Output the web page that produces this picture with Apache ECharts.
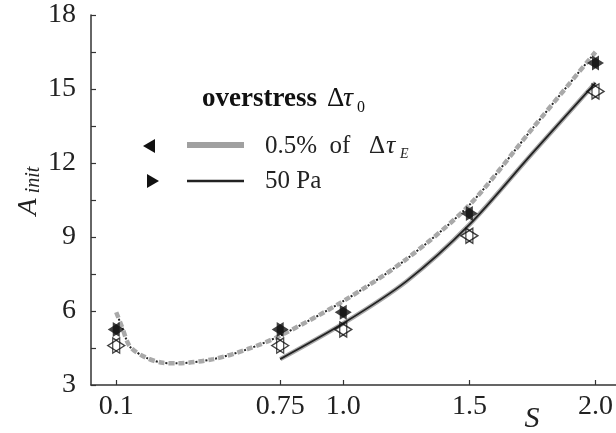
<!DOCTYPE html>
<html>
<head>
<meta charset="utf-8">
<script src="https://cdn.jsdelivr.net/npm/echarts@6/dist/echarts.min.js"></script>
<style>
  html, body { margin: 0; padding: 0; background: #fff; }
  #chart { width: 616px; height: 433px; }
</style>
</head>
<body>
<div id="chart"></div>
<script>
// Axis ticks
const sTicks = [0.1, 0.75, 1.0, 1.5, 2.0];
const sTickLabels = ['0.1', '0.75', '1.0', '1.5', '2.0'];

// Simulation points (hexagram = left + right triangle)
const pointS = [0.1, 0.75, 1.0, 1.5, 2.0];
const filledA = [5.25, 5.25, 5.95, 9.95, 16.05];
const openA = [4.6, 4.6, 5.25, 9.05, 14.9];

// Fitted curves
const upperFitS = [0.1, 0.123, 0.155, 0.22, 0.285, 0.34, 0.485, 0.62, 0.75, 1.0, 1.25, 1.5, 1.75, 2.0];
const upperFitA = [5.95, 5.35, 4.55, 4.1, 3.9, 3.88, 4.05, 4.45, 5.0, 6.4, 8.1, 10.3, 13.4, 16.5];
const lowerFitS = [0.75, 1.0, 1.25, 1.5, 1.75, 2.0];
const lowerFitA = [4.05, 5.5, 7.2, 9.5, 12.4, 15.25];

const FONT = '"Liberation Serif", "Times New Roman", serif';
const LEFT_TRI = 'path://M0,5L9,0L9,10Z';
const RIGHT_TRI = 'path://M9,5L0,0L0,10Z';
const TRI_SIZE = [12, 15];

const zip = (xs, ys) => xs.map((x, i) => [x, ys[i]]);

const markerSeries = (name, ys, symbol, dx, filled) => ({
    name: name, type: 'scatter', data: zip(pointS, ys), z: 5,
    symbol: symbol, symbolSize: TRI_SIZE, symbolOffset: [dx, 0],
    itemStyle: filled
        ? { color: '#111' }
        : { color: 'rgba(255,255,255,0)', borderColor: '#111', borderWidth: 1.3 }
});

const chart = echarts.init(document.getElementById('chart'));

chart.setOption({
    animation: false,
    grid: { left: 91, right: 0, top: 15, bottom: 48 },
    xAxis: {
        type: 'value',
        min: 0,
        max: 2.08,
        splitLine: { show: false },
        axisLine: { lineStyle: { color: '#333', width: 1.5 } },
        axisTick: {
            inside: true, length: 5,
            customValues: sTicks,
            lineStyle: { color: '#333', width: 1.2 }
        },
        axisLabel: {
            customValues: sTicks,
            formatter: v => sTickLabels[sTicks.indexOf(v)],
            fontFamily: FONT, fontSize: 28, color: '#222', margin: 8
        }
    },
    yAxis: {
        type: 'value',
        min: 3,
        max: 18,
        interval: 1.5,
        splitLine: { show: false },
        axisLine: { show: true, lineStyle: { color: '#333', width: 1.5 } },
        axisTick: { show: true, inside: true, length: 5, lineStyle: { color: '#333', width: 1.2 } },
        axisLabel: {
            formatter: v => (v % 3 === 0 ? String(v) : ''),
            fontFamily: FONT, fontSize: 28, color: '#222', margin: 15
        }
    },
    series: [
        {
            name: '0.5% fit', type: 'line', data: zip(upperFitS, upperFitA),
            smooth: 0.3, symbol: 'none', z: 2,
            lineStyle: { color: '#a9a9a9', width: 4.5, type: [6, 4] }
        },
        {
            name: '0.5% fit dots', type: 'line', data: zip(upperFitS, upperFitA),
            smooth: 0.3, symbol: 'none', z: 3,
            lineStyle: { color: '#222', width: 2, type: [2, 8], dashOffset: -7 }
        },
        {
            name: '50 Pa fit shade', type: 'line', data: zip(lowerFitS, lowerFitA),
            smooth: 0.3, symbol: 'none', z: 2,
            lineStyle: { color: '#a9a9a9', width: 4.5 }
        },
        {
            name: '50 Pa fit', type: 'line', data: zip(lowerFitS, lowerFitA),
            smooth: 0.3, symbol: 'none', z: 3,
            lineStyle: { color: '#222', width: 1.8 }
        },
        markerSeries('0.5% filled', filledA, LEFT_TRI, -2.5, true),
        markerSeries('50 Pa filled', filledA, RIGHT_TRI, 2.5, true),
        markerSeries('0.5% open', openA, LEFT_TRI, -2.5, false),
        markerSeries('50 Pa open', openA, RIGHT_TRI, 2.5, false)
    ],
    graphic: [
        // axis names
        { type: 'text', x: 29, y: 207, rotation: Math.PI / 2,
          style: { text: 'A', font: 'italic 28px ' + FONT, fill: '#222', align: 'center', verticalAlign: 'middle' } },
        { type: 'text', x: 34, y: 180, rotation: Math.PI / 2,
          style: { text: 'init', font: 'italic 20px ' + FONT, fill: '#222', align: 'center', verticalAlign: 'middle' } },
        { type: 'text', x: 532, y: 419,
          style: { text: 'S', font: 'italic 30px ' + FONT, fill: '#222', align: 'center', verticalAlign: 'middle' } },

        // legend title
        { type: 'text', x: 202, y: 99,
          style: { text: 'overstress', font: 'bold 27px ' + FONT, fill: '#111', align: 'left', verticalAlign: 'middle' } },
        { type: 'text', x: 327, y: 99,
          style: { text: 'Δ', font: '27px ' + FONT, fill: '#111', align: 'left', verticalAlign: 'middle' } },
        { type: 'text', x: 343, y: 99,
          style: { text: 'τ', font: 'italic 28px ' + FONT, fill: '#111', align: 'left', verticalAlign: 'middle' } },
        { type: 'text', x: 357, y: 108,
          style: { text: '0', font: '16px ' + FONT, fill: '#111', align: 'left', verticalAlign: 'middle' } },

        // legend row 1
        { type: 'polygon', shape: { points: [[143, 146], [155, 139], [155, 153]] }, style: { fill: '#111' } },
        { type: 'line', shape: { x1: 187, y1: 145, x2: 244, y2: 145 }, style: { stroke: '#a0a0a0', lineWidth: 6 } },
        { type: 'text', x: 265, y: 146,
          style: { text: '0.5%  of', font: '25px ' + FONT, fill: '#222', align: 'left', verticalAlign: 'middle' } },
        { type: 'text', x: 369, y: 146,
          style: { text: 'Δ', font: '25px ' + FONT, fill: '#222', align: 'left', verticalAlign: 'middle' } },
        { type: 'text', x: 386, y: 146,
          style: { text: 'τ', font: 'italic 26px ' + FONT, fill: '#222', align: 'left', verticalAlign: 'middle' } },
        { type: 'text', x: 400, y: 154,
          style: { text: 'E', font: 'italic 14px ' + FONT, fill: '#222', align: 'left', verticalAlign: 'middle' } },

        // legend row 2
        { type: 'polygon', shape: { points: [[159, 181], [147, 174], [147, 188]] }, style: { fill: '#111' } },
        { type: 'line', shape: { x1: 187, y1: 181, x2: 244, y2: 181 }, style: { stroke: '#222', lineWidth: 2.5 } },
        { type: 'text', x: 265, y: 181,
          style: { text: '50 Pa', font: '25px ' + FONT, fill: '#222', align: 'left', verticalAlign: 'middle' } }
    ]
});
</script>
</body>
</html>
